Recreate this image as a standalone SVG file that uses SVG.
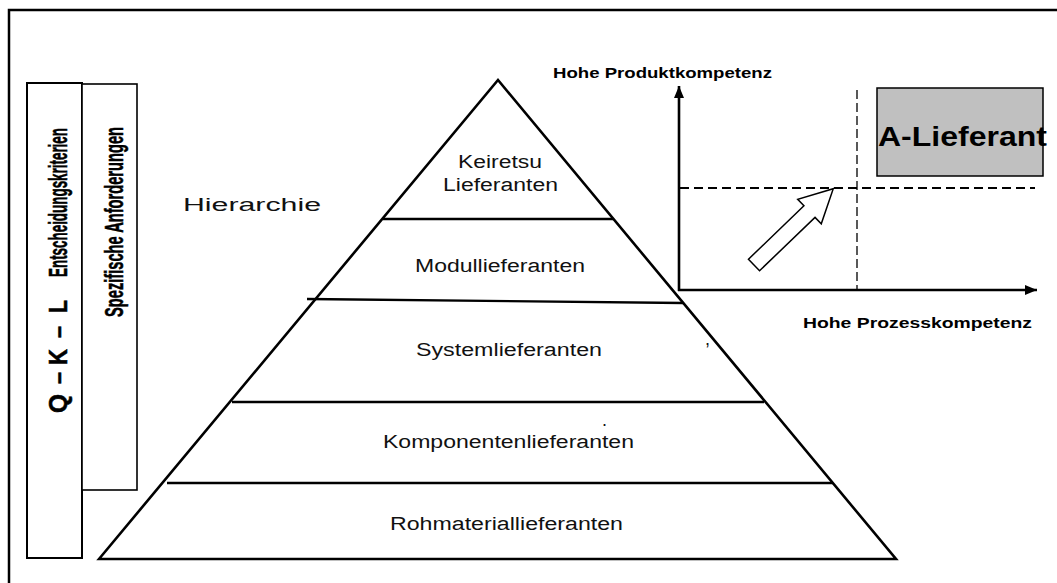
<svg xmlns="http://www.w3.org/2000/svg" width="1057" height="583" viewBox="0 0 1057 583">
  <style>
    .frame { fill: none; stroke: #000; stroke-width: 2.5; }
    .edge { fill: none; stroke: #000; stroke-width: 2.6; stroke-linecap: round; stroke-linejoin: miter; }
    .layer { fill: none; stroke: #000; stroke-width: 2.3; }
    .box { fill: #fff; stroke: #000; stroke-width: 1.6; }
    .lbl { font-family: "Liberation Sans", Arial, sans-serif; font-size: 18px; fill: #111; }
    .bold { font-family: "Liberation Sans", Arial, sans-serif; font-weight: bold; fill: #000; }
    .vert { stroke: #000; stroke-width: 0.3; }
    .axis { fill: none; stroke: #000; stroke-width: 2.6; }
    .dash { fill: none; stroke: #000; stroke-width: 1.9; stroke-dasharray: 9 5; }
    .vdash { fill: none; stroke: #000; stroke-width: 1.3; stroke-dasharray: 9 4; }
  </style>
  <defs>
    <marker id="tip" markerUnits="userSpaceOnUse" markerWidth="14" markerHeight="12" refX="12" refY="6" orient="auto">
      <path d="M0,1 L12,6 L0,11 Z" fill="#000"/>
    </marker>
  </defs>

  <rect width="1057" height="583" fill="#fff"/>

  <!-- outer frame (only top and left edges visible) -->
  <path class="frame" d="M9,583 V10 H1057"/>

  <!-- criteria boxes with vertical labels -->
  <g id="criteria">
    <rect class="box" x="27" y="83" width="55" height="475" style="stroke-width:2"/>
    <text class="bold vert" font-size="13.5" transform="translate(67,413) rotate(-90) scale(1,1.85)">
      <tspan x="0" textLength="19" lengthAdjust="spacingAndGlyphs">Q</tspan>
      <tspan x="29" textLength="12" lengthAdjust="spacingAndGlyphs">–</tspan>
      <tspan x="48" textLength="16" lengthAdjust="spacingAndGlyphs">K</tspan>
      <tspan x="75" textLength="12" lengthAdjust="spacingAndGlyphs">–</tspan>
      <tspan x="100" textLength="13" lengthAdjust="spacingAndGlyphs">L</tspan>
      <tspan x="136" textLength="149" lengthAdjust="spacingAndGlyphs">Entscheidungskriterien</tspan>
    </text>
  </g>
  <g id="requirements">
    <rect class="box" x="82" y="84" width="55" height="406"/>
    <text class="bold vert" font-size="14.6" transform="translate(123,317) rotate(-90) scale(1,1.75)" textLength="190" lengthAdjust="spacingAndGlyphs">Spezifische Anforderungen</text>
  </g>

  <g id="hierarchy-label">
    <text class="lbl" font-size="22" x="183" y="211" textLength="138" lengthAdjust="spacingAndGlyphs">Hierarchie</text>
  </g>

  <!-- supplier pyramid -->
  <g id="pyramid">
    <path class="edge" d="M99,559 L498,80 L896,559 Z"/>
    <line class="layer" x1="383" y1="219" x2="613" y2="219"/>
    <line class="layer" x1="307" y1="299" x2="683" y2="303"/>
    <line class="layer" x1="232" y1="402" x2="764" y2="402"/>
    <line class="layer" x1="167" y1="483" x2="833" y2="483"/>
  </g>
  <g id="keiretsu">
    <text class="lbl" x="458" y="168" textLength="84" lengthAdjust="spacingAndGlyphs">Keiretsu</text>
    <text class="lbl" x="443" y="191" textLength="115" lengthAdjust="spacingAndGlyphs">Lieferanten</text>
  </g>
  <g id="modul">
    <text class="lbl" x="415" y="272" textLength="170" lengthAdjust="spacingAndGlyphs">Modullieferanten</text>
  </g>
  <g id="system">
    <text class="lbl" x="416" y="356" textLength="186" lengthAdjust="spacingAndGlyphs">Systemlieferanten</text>
    <text class="lbl" font-size="22" x="705" y="345">,</text>
  </g>
  <g id="komponenten">
    <text class="lbl" font-size="20" x="602" y="426">.</text>
    <text class="lbl" x="383" y="448" textLength="251" lengthAdjust="spacingAndGlyphs">Komponentenlieferanten</text>
  </g>
  <g id="rohmaterial">
    <text class="lbl" x="390" y="530" textLength="233" lengthAdjust="spacingAndGlyphs">Rohmateriallieferanten</text>
  </g>

  <!-- competence portfolio -->
  <g id="connectors">
    <line class="axis" x1="679" y1="291" x2="679" y2="86" marker-end="url(#tip)"/>
    <line class="axis" x1="678" y1="290" x2="1037" y2="290" marker-end="url(#tip)"/>
    <line class="vdash" x1="857" y1="90" x2="857" y2="289"/>
    <line class="dash" x1="680" y1="188" x2="1035" y2="188"/>
    <polygon points="0,-8 77,-8 77,-17 110,0 77,17 77,8 0,8" fill="#fff" stroke="#000" stroke-width="1.5" transform="translate(754,265) rotate(-43.9)"/>
  </g>
  <g id="axis-labels">
    <text class="bold" font-size="15" x="553" y="78" textLength="219" lengthAdjust="spacingAndGlyphs">Hohe Produktkompetenz</text>
    <text class="bold" font-size="15" x="803" y="328" textLength="229" lengthAdjust="spacingAndGlyphs">Hohe Prozesskompetenz</text>
  </g>
  <g id="a-supplier">
    <rect x="877" y="88" width="166" height="88" fill="#c0c0c0" stroke="#000" stroke-width="1.5"/>
    <text class="bold" font-size="27" x="878" y="146" textLength="169" lengthAdjust="spacingAndGlyphs">A-Lieferant</text>
  </g>
</svg>
